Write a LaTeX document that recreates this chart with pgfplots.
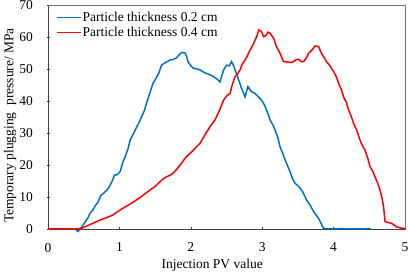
\documentclass[border=0pt]{standalone}
\usepackage{fontspec}
\setmainfont{Liberation Serif}
\usepackage{pgfplots}
\pgfplotsset{compat=1.18}
\definecolor{cblue}{RGB}{0,112,192}
\definecolor{cred}{RGB}{255,0,0}
\newcommand{\bigfont}{\fontsize{13.5pt}{15pt}\selectfont}
\begin{document}
\begin{tikzpicture}[font=\bigfont]
\begin{axis}[
  name=ax,
  font=\bigfont,
  scale only axis,
  width=357pt, height=224pt,
  xmin=0, xmax=5, ymin=0, ymax=70,
  xtick={0,1,2,3,4,5}, ytick={0,10,20,30,40,50,60,70},
  /pgf/number format/assume math mode=true,
  tick align=inside,
  major tick length=3pt,
  tick style={color=black!75, line width=0.6pt},
  axis lines=left,
  axis line style={-, color=black!75, line width=0.8pt},
  tick label style={font=\bigfont},
  xticklabel style={yshift=-9pt},
  yticklabel style={xshift=-10pt},
  xlabel={Injection PV value},
  ylabel={Temporary plugging\ \ pressure/ MPa},
  label style={font=\bigfont},
  xlabel style={at={(axis description cs:0.46,-0.164)}, anchor=center},
  ylabel style={at={(axis description cs:-0.106,0.462)}, anchor=center},
  legend style={draw=none, fill=none, font=\bigfont, at={(axis description cs:0.022,0.978)}, anchor=north west,
    inner sep=0pt, row sep=0pt, nodes={inner sep=1pt, text height=10pt, text depth=3pt}},
  legend cell align=left,
  legend image code/.code={\draw[#1] (0pt,0pt) -- (24pt,0pt);},
  clip=false,
]
\addplot[cblue, line width=1.5pt, line join=miter] coordinates {
(0,0) (0.2,0) (0.38,0) (0.42,-0.8) (0.45,0) (0.50,1.5) (0.52,2.2) (0.56,3.5) (0.59,5)
(0.63,6) (0.66,7.2) (0.70,8.4) (0.74,10.5) (0.78,11.2) (0.82,12) (0.86,13.2) (0.90,15)
(0.93,16.8) (0.97,17) (1.01,17.9) (1.05,21) (1.08,22.5) (1.12,25) (1.15,27.8) (1.19,29.5)
(1.24,31.8) (1.28,33.5) (1.31,35) (1.35,37) (1.38,39.3) (1.42,42) (1.47,45.5) (1.51,47)
(1.55,48.6) (1.59,51.2) (1.63,51.8) (1.67,52.3) (1.71,52.8) (1.76,53) (1.80,53.5)
(1.84,54.5) (1.87,55.2) (1.92,55) (1.94,54) (1.96,52.3) (2.00,51) (2.04,50.2) (2.09,50)
(2.13,49.7) (2.18,49) (2.22,48.6) (2.27,48.2) (2.32,47.6) (2.37,46.8) (2.41,46) (2.43,47.6)
(2.46,49.7) (2.50,51.2) (2.54,51) (2.57,52.3) (2.60,51) (2.62,49.7) (2.65,48) (2.67,46.6)
(2.71,44) (2.74,42.4) (2.76,41.3) (2.78,43) (2.80,44.5) (2.83,43.5) (2.85,42.9) (2.89,42.5)
(2.92,41.9) (2.96,41) (2.99,40.3) (3.03,38.8) (3.06,37.2) (3.09,35.5) (3.11,34.1) (3.15,32.5)
(3.18,30.9) (3.22,28.5) (3.25,25.7) (3.29,23.5) (3.32,21.6) (3.36,19.5) (3.39,17.9)
(3.43,15.5) (3.46,14.3) (3.50,13.5) (3.53,12.8) (3.57,11.5) (3.62,9.1) (3.67,7.5) (3.72,5.4)
(3.76,4.2) (3.79,3.3) (3.83,1.5) (3.86,0.2) (3.95,0) (4.1,0.1) (4.3,0) (4.5,0.1) (4.52,0)
};
\addlegendentry{Particle thickness 0.2 cm}
\addplot[cred, line width=1.5pt, line join=miter] coordinates {
(0,0) (0.2,0) (0.4,0) (0.48,0.3) (0.52,0.7) (0.6,1.5) (0.67,2.2) (0.73,2.8) (0.80,3.4)
(0.86,3.9) (0.91,4.4) (0.98,5.5) (1.05,6.5) (1.12,7.4) (1.18,8.2) (1.24,9.1) (1.30,10)
(1.37,11.2) (1.43,12.2) (1.50,13.3) (1.57,14.8) (1.62,15.8) (1.66,16.3) (1.71,16.8)
(1.75,17.4) (1.80,18.6) (1.85,20) (1.90,21.5) (1.94,22.6) (1.99,23.6) (2.06,25.2)
(2.13,26.8) (2.20,29.5) (2.27,32) (2.34,34.1) (2.40,37) (2.46,40.3) (2.50,41.5) (2.55,42.4)
(2.58,45) (2.62,47.6) (2.66,48.6) (2.69,49.7) (2.72,51.5) (2.76,52.8) (2.80,54.5)
(2.83,55.9) (2.87,57.5) (2.90,59) (2.93,60.5) (2.95,62.2) (2.99,61.7) (3.02,60.1)
(3.06,60.6) (3.08,61.5) (3.11,61.2) (3.16,59.6) (3.20,57) (3.25,54.9) (3.30,52.3)
(3.35,52.2) (3.40,52) (3.44,52.3) (3.48,53) (3.51,53) (3.55,52.3) (3.58,52.3) (3.62,53.5)
(3.65,54.9) (3.70,56) (3.74,57.2) (3.79,57) (3.83,54.9) (3.87,53.5) (3.90,52.3) (3.95,51)
(4.00,49.2) (4.04,47.5) (4.07,45.5) (4.11,43.5) (4.14,41.3) (4.18,39.5) (4.21,37.2)
(4.25,35) (4.28,33) (4.33,30.5) (4.37,27.8) (4.40,26.2) (4.44,24.7) (4.48,22) (4.51,19.5)
(4.55,18) (4.58,16.3) (4.62,14.2) (4.65,12.2) (4.68,9.5) (4.70,7) (4.72,2.3) (4.77,2)
(4.81,1.8) (4.85,1.2) (4.88,0.7) (4.94,0.3) (5.0,0.2)
};
\addlegendentry{Particle thickness 0.4 cm}
\draw[color=black!55, line width=0.8pt] (rel axis cs:0,1) -- (rel axis cs:1,1) -- (rel axis cs:1,0);
\end{axis}
\pgfresetboundingbox
\path ([shift={(-48pt,-44pt)}]ax.south west) rectangle ([shift={(3pt,5pt)}]ax.north east);
\end{tikzpicture}
\end{document}
